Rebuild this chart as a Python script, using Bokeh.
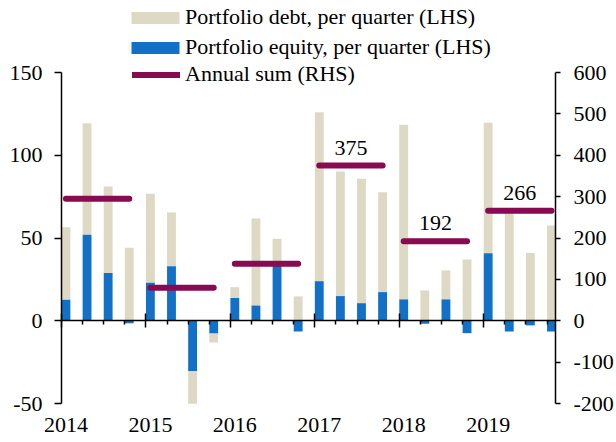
from bokeh.plotting import figure
from bokeh.models import (ColumnDataSource, Range1d, LinearAxis, FixedTicker,
                          Legend, LegendItem)
from bokeh.core.properties import value
from bokeh.embed import file_html
from bokeh.resources import INLINE

# ---------------- data ----------------
years = [2014, 2015, 2016, 2017, 2018, 2019]
# portfolio equity per quarter (LHS)
equity = [12.7, 52.0, 28.8, -1.5,
          23.0, 33.0, -30.4, -7.5,
          13.7, 9.2, 35.0, -6.5,
          23.9, 14.9, 10.6, 17.3,
          12.9, -1.8, 12.9, -7.5,
          40.8, -6.5, -2.8, -6.5]
# portfolio debt per quarter (LHS)
debt = [43.8, 67.4, 52.3, 44.1,
        53.7, 32.4, -19.8, -5.6,
        6.6, 52.6, 14.5, 14.7,
        102.1, 75.3, 75.2, 60.4,
        105.5, 18.3, 17.5, 37.0,
        78.8, 67.0, 40.9, 57.6]
# annual sum (RHS)
annual_sum = [295, 80, 138, 375, 192, 266]
labelled_years = [2017, 2018, 2019]

left_ticks = [-50, 0, 50, 100, 150]
right_ticks = [-200, -100, 0, 100, 200, 300, 400, 500, 600]

# ---------------- colours / fonts ----------------
BEIGE = "#DDD9C4"
BLUE = "#1271C7"
MAROON = "#880A50"
FONT = "Liberation Serif"
FS = "22px"

# ---------------- derived positions ----------------
n = len(equity)
xq = list(range(n))                     # quarter index = bar centre
eq_bottom = [0.0] * n
eq_top = equity[:]
debt_bottom, debt_top = [], []
for e, d in zip(equity, debt):
    if (e >= 0) == (d >= 0):
        debt_bottom.append(e)
        debt_top.append(e + d)
    else:
        debt_bottom.append(0.0)
        debt_top.append(d)

bars = ColumnDataSource(dict(x=xq, eb=eq_bottom, et=eq_top,
                             db=debt_bottom, dt=debt_top))

yr_x0 = [4 * i for i in range(len(years))]
yr_x1 = [4 * i + 3 for i in range(len(years))]
sums = ColumnDataSource(dict(x0=yr_x0, x1=yr_x1, y=annual_sum))

lab_idx = [years.index(y) for y in labelled_years]
labs = ColumnDataSource(dict(
    x=[(yr_x0[i] + yr_x1[i]) / 2 for i in lab_idx],
    y=[annual_sum[i] for i in lab_idx],
    t=[str(annual_sum[i]) for i in lab_idx]))

# ---------------- layout (frame = whole canvas, axes at fixed spots) ----------------
W, H = 614, 440
PL, PR, PT, PB = 61, 555, 72, 403           # plot-area edges on the canvas
BW = 0.42
X_LO, X_HI = -BW / 2, n - 1 + BW / 2 - 0.02
PX_X = (PR - PL) / (X_HI - X_LO)
PX_Y = (PB - PT) / 200.0
Y_LO = -50 - (H - PB) / PX_Y
Y_HI = 150 + PT / PX_Y
XR = Range1d(X_LO - PL / PX_X, X_HI + (W - PR) / PX_X)

p = figure(width=W, height=H, output_backend="svg", toolbar_location=None,
           x_range=XR, y_range=Range1d(Y_LO, Y_HI),
           x_axis_location=None, y_axis_location=None,
           min_border_left=0, min_border_right=0,
           min_border_top=0, min_border_bottom=0)
p.extra_y_ranges = {"rhs": Range1d(Y_LO * 4, Y_HI * 4)}
p.outline_line_color = None
p.xgrid.visible = False
p.ygrid.visible = False

debt_r = p.vbar(x="x", bottom="db", top="dt", width=BW, source=bars,
                fill_color=BEIGE, line_color=None)
eq_r = p.vbar(x="x", bottom="eb", top="et", width=BW, source=bars,
              fill_color=BLUE, line_color=None)

sum_r = p.segment(x0="x0", x1="x1", y0="y", y1="y", source=sums,
                  y_range_name="rhs", line_color=MAROON, line_width=6,
                  line_cap="round")
p.text(x="x", y="y", text="t", source=labs, y_range_name="rhs",
       text_font=value(FONT), text_font_size=FS, text_color="black",
       text_align="center", text_baseline="middle", y_offset=-18)

# ---------------- axes ----------------
def style(ax):
    ax.major_label_text_font = FONT
    ax.major_label_text_font_size = FS
    ax.major_label_text_color = "black"
    ax.axis_line_color = "black"
    ax.axis_line_width = 1.5
    ax.major_tick_line_color = "black"
    ax.major_tick_line_width = 1.5
    ax.minor_tick_line_color = "black"
    ax.minor_tick_line_width = 1.5
    ax.minor_tick_in = 0
    ax.minor_tick_out = 0

left = LinearAxis(ticker=FixedTicker(ticks=left_ticks), bounds=(-50, 150),
                  fixed_location=X_LO,
                  major_label_overrides={t: str(t) for t in left_ticks})
style(left)
left.major_tick_out = 7
left.major_tick_in = 0
left.major_label_standoff = 12
p.add_layout(left, "left")

right = LinearAxis(y_range_name="rhs", ticker=FixedTicker(ticks=right_ticks),
                   bounds=(-200, 600), fixed_location=X_HI,
                   major_label_overrides={t: str(t) for t in right_ticks})
style(right)
right.major_tick_out = 5
right.major_tick_in = 0
right.major_label_standoff = 13
p.add_layout(right, "right")

# zero line with quarter ticks
zero_ax = LinearAxis(ticker=FixedTicker(
    ticks=[4 * i - BW / 2 for i in range(len(years))],
    minor_ticks=[k - BW / 2 for k in range(n) if k % 4]),
    fixed_location=0, bounds=(X_LO, X_HI))
style(zero_ax)
zero_ax.major_tick_in = 7
zero_ax.major_tick_out = 7
zero_ax.minor_tick_out = 4
zero_ax.major_label_text_alpha = 0
zero_ax.major_label_text_font_size = "1px"
p.add_layout(zero_ax, "below")

# year labels at the bottom
year_ax = LinearAxis(ticker=FixedTicker(ticks=yr_x0), fixed_location=-50,
                     major_label_overrides={x: str(y) for x, y in zip(yr_x0, years)})
style(year_ax)
year_ax.axis_line_color = None
year_ax.major_tick_line_color = None
year_ax.major_tick_out = 0
year_ax.major_tick_in = 0
year_ax.major_label_standoff = 14
p.add_layout(year_ax, "below")

# ---------------- legends (positions in canvas pixels, frame = canvas) ----------------
def leg_style(lg):
    lg.label_text_font = FONT
    lg.label_text_font_size = FS
    lg.label_text_color = "black"
    lg.padding = 0
    lg.margin = 0
    lg.spacing = 4
    lg.label_height = 24
    lg.border_line_color = None
    lg.background_fill_alpha = 0

leg1 = Legend(items=[LegendItem(label="Portfolio debt, per quarter (LHS)", renderers=[debt_r]),
                     LegendItem(label="Portfolio equity, per quarter (LHS)", renderers=[eq_r])],
              location=(125, H - 60))
leg_style(leg1)
leg1.glyph_width = 60
leg1.glyph_height = 15
leg1.label_standoff = 0
p.add_layout(leg1)

leg2 = Legend(items=[LegendItem(label="Annual sum (RHS)", renderers=[sum_r])],
              location=(132, H - 87))
leg_style(leg2)
leg2.glyph_width = 48
leg2.glyph_height = 15
leg2.label_standoff = 5
p.add_layout(leg2)

open("out.html", "w").write(file_html(p, INLINE))
